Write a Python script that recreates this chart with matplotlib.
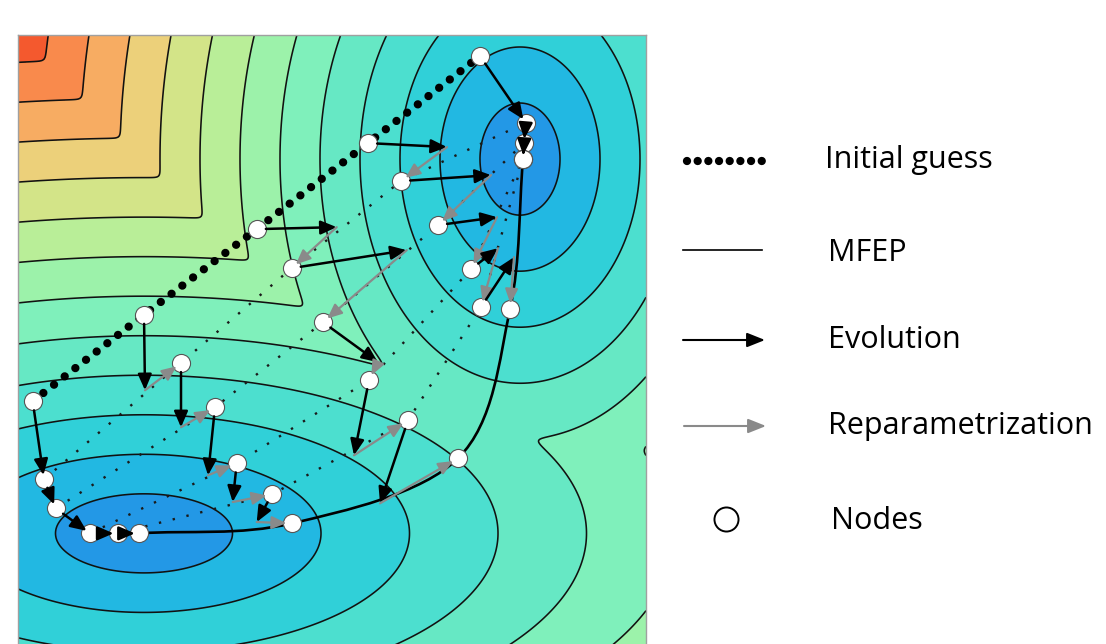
import numpy as np
import matplotlib
matplotlib.use('Agg')
import matplotlib.pyplot as plt
from matplotlib.path import Path
from matplotlib.patches import PathPatch

# Energy landscape: two elliptic wells (centre x, centre y, x-scale, y-scale)
well_bl = [144, 533, 88.5, 39.5]
well_tr = [520, 159, 40, 56]
levels = [-1, 1, 2, 3, 4, 5, 6, 7, 8, 9, 10, 11, 12, 20]
band_colors = ['#2398e6', '#22b8e2', '#30d0d8', '#4cdfcf', '#66e8c4', '#7ff0bb',
               '#9cf2aa', '#b9ee98', '#d3e488', '#ecd07a', '#f7ac62', '#f98a4c',
               '#f4592e']

# String method iterations (pixel coords of the picture), 5 nodes each
iter_x = [
    [32.7, 144, 256.7, 368, 480],
    [44, 181, 291.7, 401, 525.7],
    [55.7, 215, 323, 438, 524],
    [90, 236.7, 369, 471, 523],
    [117.7, 272, 408, 481, 523],
    [139, 292, 458, 510, 523],
]
iter_y = [
    [401, 314.5, 229, 143, 56],
    [479, 362.7, 268, 181, 122.7],
    [508, 407, 322, 225, 143],
    [533, 463, 380, 269, 159],
    [533, 494, 420, 307, 159],
    [533, 523, 458, 309, 159],
]
# evolved positions of the three inner nodes, before reparametrization
evo_x = [
    [145, 336.7, 447],
    [181, 406.7, 491],
    [208, 378, 497],
    [232.7, 354, 498],
    [256.7, 380, 514],
]
evo_y = [
    [390, 227, 147],
    [427, 250, 175],
    [475, 362, 217],
    [501.7, 455, 248],
    [521.7, 503, 257],
]

legend_labels = ['Initial guess', 'MFEP', 'Evolution', 'Reparametrization', 'Nodes']

W, H = 1106, 644
fig = plt.figure(figsize=(W / 100, H / 100), dpi=100)
fig.patch.set_facecolor('white')
ax = fig.add_axes([18 / W, -0.01, 628 / W, 609 / H + 0.01])
ax.set_xlim(18, 646)
ax.set_ylim(650, 35)

# potential surface
gx = np.linspace(18, 646, 700)
gy = np.linspace(35, 650, 700)
X, Y = np.meshgrid(gx, gy)
v1 = np.sqrt(((X - well_bl[0]) / well_bl[2]) ** 2 + ((Y - well_bl[1]) / well_bl[3]) ** 2)
v2 = np.sqrt(((X - well_tr[0]) / well_tr[2]) ** 2 + ((Y - well_tr[1]) / well_tr[3]) ** 2)
T = 0.06
V = -T * np.logaddexp(-v1 / T, -v2 / T)
ax.contourf(X, Y, V, levels=levels, colors=band_colors, zorder=0)
ax.contour(X, Y, V, levels=levels[1:-1], colors='#111111', linewidths=1.15, zorder=1)

ax.set_xticks([])
ax.set_yticks([])
for side in ['top', 'left', 'right']:
    ax.spines[side].set_color('#a0a0a0')
    ax.spines[side].set_linewidth(1.0)
ax.spines['bottom'].set_visible(False)

# initial guess (thick dots) and intermediate strings (fine dots)
ax.plot(iter_x[0], iter_y[0], color='black', lw=6.0, linestyle=(0, (0.001, 1.62)),
        dash_capstyle='round', zorder=2)
for k in range(1, 5):
    ax.plot(iter_x[k], iter_y[k], color='#1a1a1a', lw=1.7, linestyle=(0, (1, 5.0)), zorder=2)

# MFEP as smooth curve through the final nodes (Catmull-Rom -> cubic Bezier)
px = np.array(iter_x[-1], dtype=float)
py = np.array(iter_y[-1], dtype=float)
pts = np.column_stack([px, py])
tang = np.zeros_like(pts)
tang[1:-1] = (pts[2:] - pts[:-2]) / 2
tang[0] = pts[1] - pts[0]
tang[-1] = pts[-1] - pts[-2]
verts = [pts[0]]
codes = [Path.MOVETO]
for i in range(len(pts) - 1):
    verts += [pts[i] + tang[i] / 3, pts[i + 1] - tang[i + 1] / 3, pts[i + 1]]
    codes += [Path.CURVE4] * 3
ax.add_patch(PathPatch(Path(verts, codes), facecolor='none', edgecolor='black', lw=1.9, zorder=2))

# nodes
for k in range(len(iter_x)):
    ax.scatter(iter_x[k], iter_y[k], s=170, facecolor='white', edgecolor='#555555',
               linewidth=0.8, zorder=3)

R = 6.6  # node radius in points


def arrow(a, p0, p1, color, sA, sB, lw=1.8, hl=0.6, hw=0.26, ms=16):
    a.annotate('', xy=p1, xytext=p0,
               arrowprops=dict(arrowstyle='-|>,head_length=%s,head_width=%s' % (hl, hw),
                               color=color, lw=lw, shrinkA=sA, shrinkB=sB,
                               mutation_scale=ms),
               zorder=4)


for k in range(5):
    for j in range(5):
        p0 = (iter_x[k][j], iter_y[k][j])
        p1 = (iter_x[k + 1][j], iter_y[k + 1][j])
        if j in (0, 4):
            if np.hypot(p1[0] - p0[0], p1[1] - p0[1]) > 1:
                arrow(ax, p0, p1, 'black', R, 3)
        else:
            e = (evo_x[k][j - 1], evo_y[k][j - 1])
            arrow(ax, p0, e, 'black', R, 0)
            arrow(ax, e, p1, '#8a8a8a', 0, 4, lw=1.6, hl=0.55, hw=0.24)

# legend drawn in figure pixel space
lg = fig.add_axes([0, 0, 1, 1], facecolor='none')
lg.set_xlim(0, W)
lg.set_ylim(H, 0)
lg.axis('off')
lg.plot([686.7, 762.5], [160.7, 160.7], color='black', lw=6.0,
        linestyle=(0, (0.001, 1.28)), dash_capstyle='round')
lg.plot([683, 762], [250, 250], color='black', lw=1.2)
arrow(lg, (683, 340), (765, 340), 'black', 0, 0, lw=1.5, hl=0.75, hw=0.3, ms=14.5)
arrow(lg, (684, 426), (766, 426), '#8a8a8a', 0, 0, lw=1.5, hl=0.75, hw=0.3, ms=14.5)
lg.scatter([725.7], [518.5], s=300, facecolor='white', edgecolor='black', linewidth=1.4)

text_x = [825, 828, 828, 828, 831]
text_y = [168.3, 260.7, 348.3, 434, 529.3]
for lab, tx, ty in zip(legend_labels, text_x, text_y):
    lg.text(tx, ty, lab, fontsize=22, family='Open Sans', va='baseline', ha='left', color='black')

plt.savefig('out.png', dpi=100)
